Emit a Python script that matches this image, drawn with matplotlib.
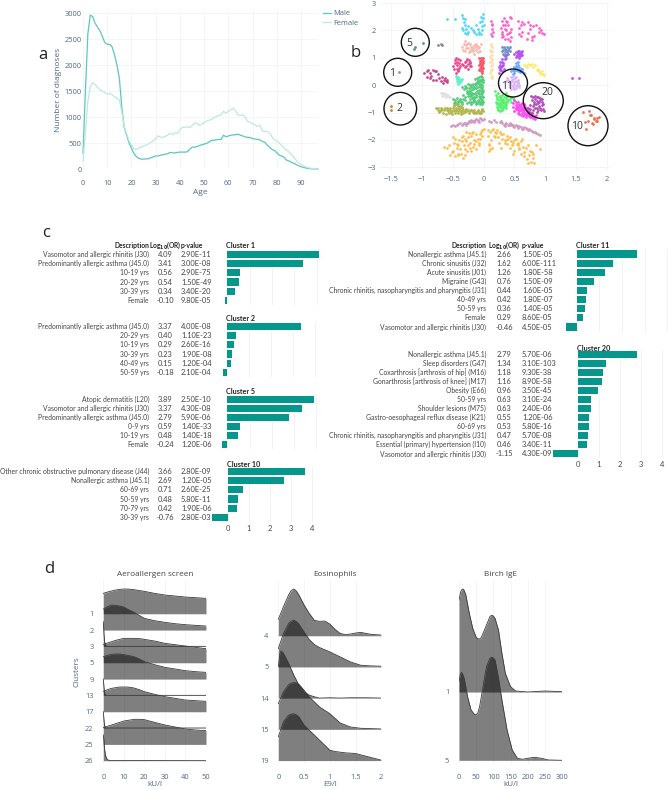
import numpy as np
import matplotlib
matplotlib.use("Agg")
import matplotlib.pyplot as plt
from matplotlib.patches import Ellipse

plt.rcParams['font.family'] = ['Open Sans', 'DejaVu Sans']

W, H = 668, 789
TICK = '#506784'
TITLE = '#444444'
GRID = '#f3f4f6'
TEAL = '#06978c'
TABLE_FONT = ['Lato', 'DejaVu Sans']

# panel a
age = list(range(0, 98))
male = [300,1500,2600,2960,2930,2800,2730,2660,2550,2430,2400,2395,2350,2200,2000,1750,1200,800,650,500,
        400,300,240,205,190,190,195,195,215,235,250,250,265,275,285,295,320,310,310,320,325,325,325,330,375,
        420,420,430,450,465,480,490,520,550,555,560,570,570,650,620,635,650,655,660,670,650,635,615,610,605,
        585,575,570,560,530,515,460,420,375,360,310,265,250,225,170,155,130,110,85,60,45,30,20,10,5,2,1,0]
female = [150,700,1300,1580,1660,1620,1570,1520,1500,1470,1440,1450,1430,1390,1360,1330,1100,820,680,540,
          460,390,375,400,420,440,460,480,510,540,580,640,610,610,630,650,690,660,700,680,750,800,805,810,795,
          830,880,880,840,860,890,920,940,950,980,1010,1030,1040,1110,1070,1110,1140,1170,1120,1040,1035,1040,990,910,900,
          870,850,820,840,730,725,720,690,620,560,540,500,450,400,365,330,280,230,170,120,90,60,40,25,15,10,8,5]
a_xticks = [0,10,20,30,40,50,60,70,80,90]
a_yticks = [0,500,1000,1500,2000,2500,3000]

# panel b, one pair of lists per cluster
cyan_x = [-.6,-.47,-.36,-.34,-.32,-.3,-.28,-.33,-.31,-.27,-.25,-.2,-.17,-.15,-.12,-.1,-.08,-.05,-.03,-.01,.0,-.02,-.06,-.04,-.01,-.08,-.03,-.3,-.26,-.35,-.13]
cyan_y = [2.4,2.4,2.55,2.45,2.3,2.2,2.05,2.0,1.9,1.85,2.15,2.1,2.0,1.95,2.2,2.05,1.85,2.5,2.35,2.6,2.2,2.0,2.3,1.85,2.45,1.95,2.15,2.4,1.95,2.1,1.85]
pink_x = [.12,.14,.13,.15,.12,.14,.13,.3,.28,.3,.33,.35,.37,.32,.42,.4,.44,.38,.45,.42,.3,.36,.41,.45,.34,.55,.58,.6,.62,.65,.58,.6,.72,.75,.78,.8,.85,.9,.95,.98,.72,.78,.82,.9,.93,.75,.7,.63,.31,.34,.38,.43,.29,.4]
pink_y = [2.35,2.2,2.05,1.95,1.85,1.8,2.25,2.35,2.1,1.95,2.45,2.2,2.0,1.8,2.5,2.2,2.05,1.85,1.75,1.6,1.75,2.35,1.9,2.45,1.7,2.35,2.1,2.2,1.95,2.25,1.85,1.8,2.3,2.05,1.75,2.15,2.2,1.95,1.9,1.85,1.9,1.65,1.8,2.1,2.0,2.2,1.7,2.3,2.2,2.05,2.3,1.95,1.85,1.7]
salmon_x = [-.35,-.32,-.3,-.28,-.25,-.22,-.2,-.17,-.15,-.12,-.1,-.07,-.05,-.33,-.29,-.26,-.23,-.19,-.16,-.13,-.09,-.06,-.3,-.24,-.14,-.21,-.18,-.11,-.27]
salmon_y = [1.4,1.5,1.6,1.45,1.35,1.5,1.3,1.25,1.45,1.3,1.2,1.4,1.5,1.3,1.35,1.55,1.25,1.4,1.15,1.5,1.35,1.25,1.25,1.2,1.4,1.38,1.32,1.42,1.5]
cream_x = [.12,.13,.11,.12,.14,.12,.13,.11,.14,.12,.13,.12,.11,.13,.12,.13,.12,.13,.11,.12,.13,.12]
cream_y = [1.5,1.4,1.3,1.2,1.1,1.0,.9,.85,.8,.7,.6,.5,.45,.35,.3,.25,1.45,1.25,1.05,.95,.75,.55]
steel_x = [.3,.32,.34,.36,.38,.41,.43,.31,.33,.37,.39,.42,.35,.36,.3,.33,.4,.34,.38]
steel_y = [1.4,1.3,1.2,1.3,1.2,1.35,1.4,1.15,1.4,1.1,1.3,1.25,1.05,1.0,1.25,1.1,1.15,1.33,1.38]
violet_x = [.52,.55,.58,.6,.63,.54,.57,.6,.62,.55,.58,.5,.36,.35,.3,.27,.26,.25,.28,.31,.33,.27,.3,.25,.29,.56,.59,.53,.61,.29,.32,.26,1.43,1.55]
violet_y = [1.2,1.25,1.25,1.2,1.25,1.1,1.15,1.1,1.1,1.05,1.0,1.15,1.1,.95,.85,.85,.75,.65,.65,.75,.6,.55,.5,.45,.95,1.18,1.07,1.03,1.17,.7,.8,.58,.27,.27]
blue_x = [.45,.48,.5,.52,.55,.58,.6,.62,.65,.5,.53,.56,.6,.52,.55,.47,.63,.54,.57,.51,.49,.59]
blue_y = [.5,.55,.65,.8,.85,.65,.55,.5,.45,.45,.55,.75,.6,.7,.5,.42,.58,.62,.55,.6,.5,.48]
yellow_x = [.65,.68,.72,.76,.8,.84,.88,.9,.93,.95,.98,.7,.78,.87,.91,.96]
yellow_y = [.75,.7,.78,.72,.65,.72,.6,.5,.42,.5,.38,.65,.78,.55,.45,.42]
lilac_x = [.36,.4,.44,.48,.52,.56,.45,.5,.55,.42,.47,.52,.57,.48,.53,.44,.5,.58,.42,.38,.46,.51,.54,.49,.43,.56,.47,.52]
lilac_y = [.15,.2,.3,.35,.3,.2,.1,.05,.1,-.05,.0,-.1,-.05,.22,.15,-.15,-.15,.0,.08,.25,.18,.25,.02,.1,.02,.08,-.08,-.04]
red_x = [-.07,-.05,-.03,-.01,-.06,-.03,-.01,-.07,-.04,-.02,-.06,-.03,-.01,-.05,-.02,-.04,-.06,-.02,-.05,-.03,-.07,-.01]
red_y = [1.0,1.0,.98,1.0,.88,.85,.88,.75,.72,.75,.62,.6,.62,.5,.45,.93,.8,.67,.68,.52,.55,.8]
rose_x = [-.5,-.47,-.45,-.42,-.4,-.38,-.48,-.44,-.41,-.45,-.42,-.3,-.27,-.24,-.22,-.2,-.28,-.25,-.22,-.3,-.35,-.33,-.43,-.46,-.43,-.4,-.26,-.23,-.28,-.39]
rose_y = [.7,.9,1.0,.95,.8,.7,.6,.6,.55,.45,.5,.85,.95,.9,.8,.7,.7,.6,.85,.65,.78,.72,.75,.82,.85,.62,.78,.7,.88,.9]
dpink_x = [-.97,-.93,-.9,-.87,-.83,-.8,-.77,-.92,-.87,-.82,-.78,-.72,-.68,-.65,-.62,-.6,-.66,-.63,-.7,-.6,-.75,-.85]
dpink_y = [.45,.5,.55,.45,.55,.52,.5,.3,.25,.2,.2,.25,.3,.2,.15,.1,.08,.25,.15,.2,.42,.35]
mint_x = [-.45,-.43,-.41,-.39,-.37,-.44,-.42,-.4,-.38,-.43,-.41,-.36,-.44,-.4,-.42,-.38]
mint_y = [.35,.25,.3,.2,.15,.15,.1,.08,.12,.3,.18,.22,.22,.24,.05,.18]
green_x = [-.02,-.05,-.08,-.11,-.14,-.01,-.04,-.07,-.1,-.13,-.02,-.06,-.09,-.12,-.03,-.07,-.02,-.05,-.01,-.04,-.08,-.02,-.05,-.02,
           -.17,-.2,-.23,-.26,-.29,-.32,-.15,-.18,-.21,-.24,-.27,-.14,-.17,-.2,-.23,-.12,-.16,-.19,-.22,-.1,-.13,-.16,
           -.5,-.47,-.44,-.41,-.38,-.35,-.48,-.45,-.42,-.39,-.36,-.33,-.3,-.27,-.24,-.21,-.18,-.3,-.25,-.2,
           -.03,-.06,-.01,-.04,-.08,-.02,-.05,-.01,-.07,-.03,-.06,-.01,-.04,-.02,-.06,-.09,-.11,-.13,-.15,-.18,-.21,-.24,-.28,-.31,-.35,-.14,-.11,-.09,-.12,-.16,-.19,-.22,-.25,-.15,-.18,-.22,-.27,-.1,-.13,-.08,-.06,-.04,-.34,-.37,-.42,-.46]
green_y = [.3,.32,.28,.25,.22,.18,.15,.12,.1,.08,.0,-.02,-.05,.0,-.15,-.18,-.3,-.32,-.45,-.5,-.4,-.6,-.6,-.7,
           .05,.0,.02,.05,-.1,-.15,-.1,-.15,-.18,-.2,-.22,-.3,-.32,-.35,-.33,-.45,-.48,-.45,-.5,-.55,-.6,-.58,
           -.5,-.55,-.48,-.6,-.52,-.62,-.65,-.7,-.68,-.55,-.7,-.5,-.55,-.65,-.6,-.6,-.62,-.42,-.38,-.68,
           .24,.2,.1,.05,.03,-.08,-.1,-.22,-.28,-.38,-.48,-.62,-.66,-.55,-.68,-.3,-.2,-.12,-.05,-.08,-.08,-.1,-.05,-.02,-.05,.05,.12,.18,-.35,-.42,-.28,-.26,-.3,-.55,-.52,-.4,-.3,-.65,-.68,-.58,-.42,-.22,-.35,-.62,-.58,-.62]
lime_x = [.19,.2,.22,.24,.26,.28,.3,.33,.36,.39,.2,.23,.26,.29,.32,.35,.38,.42,.45,.48,.21,.25,.28,.31,.34,.37,.23,.26,.29,.32,.27,.3,.36,.44,.5,.22,.25,.28,.33,.36,.4,.24,.31,.35,.21,.27,.3,.37]
lime_y = [-.2,-.35,-.5,-.3,-.4,-.5,-.35,-.45,-.5,-.4,-.6,-.65,-.7,-.6,-.55,-.6,-.62,-.5,-.45,-.48,-.8,-.78,-.85,-.8,-.75,-.72,-.9,-.95,-.92,-.85,-.45,-.72,-.3,-.62,-.55,-.42,-.55,-.62,-.65,-.42,-.55,-.88,-.62,-.68,-.7,-.78,-.52,-.82]
lgray_x = [-.7,-.67,-.64,-.61,-.58,-.55,-.68,-.65,-.62,-.59,-.56,-.66,-.63]
lgray_y = [-.3,-.28,-.3,-.33,-.36,-.42,-.38,-.4,-.42,-.4,-.45,-.34,-.36]
olive_x = [-.78,-.75,-.72,-.69,-.66,-.63,-.6,-.57,-.54,-.51,-.48,-.45,-.42,-.39,-.36,-.33,-.3,-.27,-.24,-.21,-.18,-.15,-.12,-.09,-.06,-.03,-.01,
           -.74,-.7,-.65,-.6,-.55,-.5,-.45,-.4,-.35,-.3,-.25,-.2,-.15,-.1,-.05,-.02,-.62,-.52,-.47,-.42,-.37,-.48,-.43,-.38,
           -.71,-.67,-.58,-.53,-.49,-.44,-.41,-.37,-.34,-.31,-.28,-.22,-.17,-.13,-.08,-.04,-.56,-.46,-.4,-.35]
olive_y = [-.85,-.82,-.98,-.85,-1.0,-.85,-.9,-1.0,-.82,-.95,-.78,-.9,-.75,-.95,-.85,-1.0,-.9,-.95,-1.0,-.9,-.98,-.92,-1.02,-.95,-1.0,-.9,-.95,
           -.92,-.9,-.92,-.82,-.92,-.85,-.82,-.88,-.8,-.96,-.9,-.92,-1.0,-.92,-1.02,-.88,-1.05,-1.05,-1.02,-1.0,-1.05,-.72,-.7,-.75,
           -.94,-.86,-.95,-.98,-.9,-.96,-.92,-.97,-.9,-.98,-.88,-.96,-.95,-.97,-1.0,-.95,-.88,-.95,-.83,-.92]
fuchsia_x = [.47,.5,.53,.56,.59,.62,.65,.48,.52,.55,.58,.61,.64,.67,.7,.55,.58,.62,.66,.7,.74,.78,.6,.64,.68,.72,.76,.8,.84,.52,.56,.6,.5,.72,.66,.85,
             .54,.57,.6,.63,.66,.69,.72,.75,.78,.62,.65,.68,.7,.74,.58,.61,.53,.56,.77,.81]
fuchsia_y = [-.65,-.55,-.6,-.7,-.75,-.65,-.72,-.8,-.85,-.9,-.82,-.88,-.85,-.8,-.85,-1.0,-1.05,-1.0,-.98,-1.0,-1.05,-1.0,-1.1,-1.12,-1.15,-1.1,-1.15,-1.2,-1.25,-.72,-.6,-.92,-.95,-.92,-.68,-1.1,
             -.8,-.95,-.78,-.82,-.92,-1.05,-1.02,-.98,-1.12,-.92,-1.05,-1.08,-.94,-1.12,-.72,-.7,-.88,-.78,-1.18,-1.12]
plum_x = [.77,.8,.83,.86,.89,.92,.95,.78,.82,.86,.9,.94,.97,.75,.8,.85,.9,.95,.72,.76,.8,.84,.88,.93,.98,.74,.78,.86,.84,.88,.92,.82,.87,.91,.96]
plum_y = [-.4,-.42,-.38,-.42,-.45,-.48,-.5,-.55,-.6,-.58,-.62,-.6,-.68,-.72,-.78,-.7,-.78,-.72,-.85,-.88,-.9,-.85,-.92,-.9,-.95,-.98,-1.0,-.98,-.5,-.66,-.54,-.68,-.84,-.84,-.86]
mauve_x = [-.53,-.5,-.46,-.42,-.38,-.34,-.3,-.27,-.24,-.21,-.18,-.15,-.12,-.09,-.06,-.03,.0,.08,.12,.16,.2,.26,.3,.33,.37,.41,.45,.48,.52,.56,.6,.64,.68,.72,.76,.8,.85,.92,-.44,-.28,-.16,-.07,.34,.42,.5,.62,
           -.36,-.32,-.25,-.2,-.14,-.1,-.04,.28,.35,.39,.44,.47,.54,.58,.66,.7,.74,.78,.83,.88]
mauve_y = [-1.5,-1.47,-1.48,-1.42,-1.4,-1.42,-1.37,-1.38,-1.32,-1.35,-1.3,-1.32,-1.24,-1.28,-1.2,-1.27,-1.24,-1.3,-1.34,-1.28,-1.36,-1.36,-1.4,-1.45,-1.38,-1.44,-1.42,-1.5,-1.46,-1.55,-1.52,-1.6,-1.58,-1.65,-1.65,-1.7,-1.75,-1.82,-1.46,-1.44,-1.36,-1.33,-1.5,-1.38,-1.53,-1.6,
           -1.44,-1.39,-1.38,-1.29,-1.26,-1.3,-1.22,-1.32,-1.42,-1.46,-1.46,-1.44,-1.5,-1.5,-1.54,-1.62,-1.62,-1.66,-1.72,-1.78]
orange_x = [-.65,-.6,-.56,-.52,-.5,-.47,-.44,-.4,-.36,-.32,-.28,-.24,-.2,-.16,-.12,-.08,-.04,.0,-.55,-.48,-.42,-.38,-.33,-.27,-.22,-.17,-.12,-.06,-.02,-.5,-.44,-.37,-.3,-.25,-.2,-.13,-.08,-.03,-.34,-.28,-.18,-.42,-.3,
            .07,.1,.13,.16,.2,.24,.28,.32,.36,.4,.44,.48,.52,.56,.6,.64,.68,.72,.76,.8,.85,.92,.12,.09,.08,.18,.28,.34,.42,.5,.55,.6,.66,.7,.74,.77,.8,.82,.65,.72,.78,.25,.38,.47,.58,.1,.14,
            -.46,-.41,-.35,-.31,-.26,-.23,-.19,-.15,-.1,-.06,.15,.19,.22,.26,.3,.35,.38,.43,.46,.5,.54,.58,.62,.07,.08]
orange_y = [-2.25,-2.3,-2.2,-2.45,-1.9,-2.6,-2.3,-2.0,-1.9,-2.2,-2.05,-1.75,-1.85,-2.0,-1.8,-2.1,-1.7,-1.6,-2.55,-2.1,-2.5,-2.35,-2.65,-2.4,-2.1,-2.25,-2.35,-1.95,-1.65,-2.4,-2.15,-2.5,-2.55,-2.2,-2.4,-2.05,-2.2,-1.85,-1.85,-1.7,-1.7,-2.55,-2.35,
            -1.65,-1.7,-1.65,-1.85,-1.75,-1.9,-1.8,-1.8,-2.0,-1.95,-2.05,-2.1,-1.95,-2.1,-2.05,-2.25,-2.3,-2.2,-2.4,-2.5,-2.2,-2.35,-2.0,-2.2,-2.4,-1.7,-2.3,-2.0,-2.3,-2.4,-2.2,-2.5,-2.45,-2.7,-2.55,-2.8,-2.65,-2.85,-2.6,-2.85,-2.45,-2.1,-2.15,-2.5,-2.35,-2.35,-2.3,
            -1.95,-2.2,-2.05,-1.95,-1.9,-2.3,-1.75,-2.15,-1.95,-1.8,-1.6,-1.9,-1.65,-1.7,-1.95,-2.1,-1.85,-1.9,-2.2,-2.0,-2.15,-2.3,-1.95,-1.85,-2.15]
brick_x = [1.61,1.72,1.75,1.79,1.87,1.82,1.7,1.76,1.85,1.78,1.67,1.8,1.64,1.73,1.84]
brick_y = [-.97,-.95,-1.1,-1.2,-1.15,-1.3,-1.32,-1.4,-1.3,-1.42,-1.62,-1.25,-1.35,-1.08,-1.2]
five_x = [-1.12,-1.14,-.99]
five_y = [1.4,1.33,1.55]
one_x = [-1.38]
one_y = [.48]
two_x = [-1.5,-1.5]
two_y = [-.75,-.9]
stray_x = [-.75,-.7,-.68]
stray_y = [1.48,1.5,1.45]
b_xticks = [-1.5,-1,-.5,0,.5,1,1.5,2]
b_xlabels = ['\u22121.5','\u22121','\u22120.5','0','0.5','1','1.5','2']
b_yticks = [-3,-2,-1,0,1,2,3]

# panel c
c1_names = ['Vasomotor and allergic rhinitis (J30)','Predominantly allergic asthma (J45.0)','10-19 yrs','20-29 yrs','30-39 yrs','Female']
c1_or = [4.09,3.41,0.56,0.54,0.34,-0.10]
c1_p = ['2.90E-11','3.00E-08','2.90E-75','1.50E-49','3.40E-20','9.80E-05']
c2_names = ['Predominantly allergic asthma (J45.0)','20-29 yrs','10-19 yrs','30-39 yrs','40-49 yrs','50-59 yrs']
c2_or = [3.37,0.40,0.29,0.23,0.15,-0.18]
c2_p = ['4.00E-08','1.10E-23','2.60E-16','1.90E-08','1.20E-04','2.10E-04']
c5_names = ['Atopic dermatitis (L20)','Vasomotor and allergic rhinitis (J30)','Predominantly allergic asthma (J45.0)','0-9 yrs','10-19 yrs','Female']
c5_or = [3.89,3.37,2.79,0.59,0.48,-0.24]
c5_p = ['2.50E-10','4.30E-08','5.90E-06','1.40E-33','1.40E-18','1.20E-06']
c10_names = ['Other chronic obstructive pulmonary disease (J44)','Nonallergic asthma (J45.1)','60-69 yrs','50-59 yrs','70-79 yrs','30-39 yrs']
c10_or = [3.66,2.69,0.71,0.48,0.42,-0.76]
c10_p = ['2.80E-09','1.20E-05','2.60E-25','5.80E-11','1.90E-06','2.80E-03']
c11_names = ['Nonallergic asthma (J45.1)','Chronic sinusitis (J32)','Acute sinusitis (J01)','Migraine (G43)','Chronic rhinitis, nasopharyngitis and pharyngitis (J31)','40-49 yrs','50-59 yrs','Female','Vasomotor and allergic rhinitis (J30)']
c11_or = [2.66,1.62,1.26,0.76,0.44,0.42,0.36,0.29,-0.46]
c11_p = ['1.50E-05','6.00E-111','1.80E-58','1.50E-09','1.60E-05','1.80E-07','1.40E-05','8.60E-05','4.50E-05']
c20_names = ['Nonallergic asthma (J45.1)','Sleep disorders (G47)','Coxarthrosis [arthrosis of hip] (M16)','Gonarthrosis [arthrosis of knee] (M17)','Obesity (E66)','50-59 yrs','Shoulder lesions (M75)','Gastro-oesophageal reflux disease (K21)','60-69 yrs','Chronic rhinitis, nasopharyngitis and pharyngitis (J31)','Essential (primary) hypertension (I10)','Vasomotor and allergic rhinitis (J30)']
c20_or = [2.79,1.34,1.18,1.16,0.96,0.63,0.63,0.55,0.53,0.47,0.46,-1.15]
c20_p = ['5.70E-06','3.10E-103','9.30E-38','8.90E-58','3.50E-45','3.10E-24','2.40E-06','1.20E-06','5.80E-16','5.70E-08','3.40E-11','4.30E-09']

# panel d, heights of each ridge above its baseline
aero_rows = ['1','2','3','5','9','13','17','22','25','26']
aero_x = [0,2,4,6,8,10,12,15,18,20,25,30,35,40,45,50]
aero_1 = [61,65,68,71,73,74,74,72,69,67,61,56,53,50,48,46]
aero_2 = [63,70,75,74,72,69,62,53,42,35,28,23,19,16,14,12]
aero_5 = [55,59,63,67,70,73,73,73,72,70,65,58,54,50,46,42]
aero_9 = [67,71,74,75,75,73,71,67,59,52,43,35,30,25,22,20]
aero_17 = [61,66,70,72,74,74,74,71,65,60,52,45,40,35,33,31]
aero_25 = [50,54,58,62,66,70,72,75,75,74,66,58,52,46,43,41]
spike_x = [0,.3,.6,1,1.5,2,3,50]
aero_3 = [74,40,15,5,1,0,0,0]
aero_13 = [49,25,8,2,0,0,0,0]
aero_22 = [49,25,8,2,0,0,0,0]
aero_26 = [77,60,35,18,8,3,.5,0]

eos_rows = ['4','5','14','15','19']
eos_x4 = [0,.1,.2,.25,.3,.35,.4,.5,.6,.7,.8,.9,1,1.1,1.2,1.3,1.4,1.5,1.6,1.7,1.8,2]
eos_4 = [49,87,122,135,140,134,122,92,67,46,43,44,35,19,7,3,5,8,10,7,4,2]
eos_x5 = [0,.1,.2,.25,.3,.35,.4,.5,.6,.7,.8,1,1.2,1.4,1.6,1.8,2]
eos_5 = [55,100,130,137,140,136,128,105,82,67,58,45,30,15,5,3,2]
eos_x14 = [0,.03,.05,.08,.1,.2,.3,.4,.5,.6,.7,.8,1,1.2,1.4,1.7,2]
eos_14 = [94,132,141,138,134,104,69,39,19,9,4,0,1,0,1,1,0]
eos_x15 = [0,.1,.2,.25,.3,.35,.4,.5,.6,.7,.8,1,1.2,1.4,1.6,2]
eos_15 = [77,112,134,138,140,139,135,117,97,82,67,47,19,7,3,1]
eos_x19 = [0,.1,.2,.25,.3,.35,.4,.5,.6,.7,.8,1,1.1,1.3,1.5,1.7,2]
eos_19 = [71,116,136,139,140,137,131,106,91,76,61,31,27,23,21,13,1]

birch_rows = ['1','5']
birch_x1 = [0,5,9,12,15,20,30,40,50,55,60,65,70,80,90,94,97,100,105,115,125,135,150,165,200,250,300]
birch_1 = [276,301,308,309,305,291,236,191,164,160,159,164,176,201,226,230,230,228,221,186,116,56,16,3,0,3,1]
birch_x5 = [0,4,7,10,15,25,35,45,50,55,60,70,80,90,94,97,100,105,115,125,140,155,170,185,200,220,240,260,300]
birch_5 = [236,258,264,260,246,191,151,138,136,143,161,221,281,306,309,309,307,301,246,181,91,31,6,3,6,9,6,1,0]

fig = plt.figure(figsize=(W / 100, H / 100), dpi=100)


def make_ax(l, t, r, b):
    return fig.add_axes([l / W, 1 - b / H, (r - l) / W, (b - t) / H])


def plotly_style(ax, size=5.4, xpad=4, ypad=1):
    for s in ax.spines.values():
        s.set_visible(False)
    ax.tick_params(length=0, labelsize=size, labelcolor=TICK)
    ax.tick_params(axis='x', pad=xpad)
    ax.tick_params(axis='y', pad=ypad)
    ax.grid(True, color=GRID, lw=0.6)
    ax.set_axisbelow(True)


# a
ax = make_ax(83, 10, 318, 169)
plotly_style(ax, xpad=8)
ax.plot(age, male, color='#5cc6c0', lw=0.9, clip_on=False, label='Male')
ax.plot(age, female, color='#bde9df', lw=0.9, clip_on=False, label='Female')
ax.set_xlim(0, 97)
ax.set_ylim(0, 3058)
ax.set_xticks(a_xticks)
ax.set_yticks(a_yticks)
ax.set_xlabel('Age', fontsize=6, color=TICK, labelpad=1)
ax.set_ylabel('Number of diagnoses', fontsize=6, color=TICK, labelpad=2)
ax.legend(loc='upper left', bbox_to_anchor=(1.015, 1.01), frameon=False, fontsize=5.4, labelcolor=TICK,
          handlelength=1.0, handletextpad=0.4, labelspacing=0.3, borderpad=0, borderaxespad=0.2)

# b
ax = make_ax(380, 3, 610, 170)
plotly_style(ax, xpad=4, ypad=3)
clusters = [(cyan_x, cyan_y, '#52d8f7'), (pink_x, pink_y, '#ff62cf'), (salmon_x, salmon_y, '#f8b9b0'),
            (cream_x, cream_y, '#f6e2ae'), (steel_x, steel_y, '#7391c4'), (violet_x, violet_y, '#b653ef'),
            (blue_x, blue_y, '#6ea9fb'), (yellow_x, yellow_y, '#fde96a'), (lilac_x, lilac_y, '#ddb4f6'),
            (red_x, red_y, '#f65a68'), (rose_x, rose_y, '#f0488f'), (dpink_x, dpink_y, '#c84a8e'),
            (mint_x, mint_y, '#5ff2cd'), (green_x, green_y, '#55cb7c'), (lime_x, lime_y, '#56f06d'),
            (lgray_x, lgray_y, '#e2e2e2'), (olive_x, olive_y, '#b2b84e'), (fuchsia_x, fuchsia_y, '#fb4cf0'),
            (plum_x, plum_y, '#b04fb8'), (mauve_x, mauve_y, '#d19ac2'), (orange_x, orange_y, '#ffbf52'),
            (brick_x, brick_y, '#e8734f'), (five_x, five_y, '#4f9f78'), (one_x, one_y, '#5f9ff0'),
            (two_x, two_y, '#b78a3a'), (stray_x, stray_y, '#888888')]
for cx, cy, col in clusters:
    ax.scatter(cx, cy, s=4, color=col, linewidths=0)
ax.set_xlim((380 - 483.7) / 61.5, (610 - 483.7) / 61.5)
ax.set_ylim(-3.10, 3.0)
ax.set_xticks(b_xticks)
ax.set_xticklabels(b_xlabels)
ax.set_yticks(b_yticks)


def bar_panel(names, values, pvals, title, zero, unit, first, step, title_y, xname, xor, xp, tick_pad=None):
    n = len(values)
    t = first - step / 2
    b = first + step * (n - 0.5)
    ax = make_ax(zero - 30, t, zero + 4.25 * unit, b)
    for s in ax.spines.values():
        s.set_visible(False)
    ax.barh(range(n), values, height=0.78, color=TEAL, zorder=3)
    ax.set_xlim(-30 / unit, 4.25)
    ax.set_ylim(n - 0.5, -0.5)
    ax.set_yticks([])
    ax.set_xticks([0, 1, 2, 3, 4])
    ax.grid(True, axis='x', color='#f0f0f0', lw=0.6, zorder=0)
    ax.tick_params(length=0, labelsize=5.4, labelcolor='#444444', labelbottom=tick_pad is not None,
                   labelfontfamily='Lato', pad=tick_pad or 0)
    ov.text(zero - 1, title_y, title, fontsize=5.2, fontweight='bold', color='#222222', ha='left', va='center', family=TABLE_FONT)
    for i in range(n):
        y = first + step * i
        ov.text(xname, y, names[i], fontsize=4.9, color='#444444', ha='right', va='center', family=TABLE_FONT)
        ov.text(xor, y, '%.2f' % values[i], fontsize=5.4, color='#444444', ha='center', va='center', family=TABLE_FONT)
        ov.text(xp, y, pvals[i], fontsize=5.4, color='#444444', ha='left', va='center', family=TABLE_FONT)


# overlay in pixel units for the annotations and pasted-in table text
ov = fig.add_axes([0, 0, 1, 1], zorder=10)
ov.set_xlim(0, W)
ov.set_ylim(H, 0)
ov.axis('off')
ov.patch.set_alpha(0)

for cx, cy, rx, ry, lab, lx, ly in [(415.3, 42.3, 14, 14, '5', 409, 43), (397.7, 72.3, 14, 14, '1', 392, 73),
                                    (400.3, 108.7, 16.3, 16.3, '2', 399, 108), (513, 83, 14.5, 14, '11', 507, 86),
                                    (543.3, 100.7, 20, 18, '20', 547, 92), (588, 125.7, 20, 20, '10', 576.5, 126)]:
    ov.add_patch(Ellipse((cx, cy), 2 * rx, 2 * ry, fill=False, ec='#111111', lw=1.0))
    ov.text(lx, ly, lab, fontsize=7.5, color='#333333', ha='center', va='center')

for letter, lx, ly in [('a', 43, 55), ('b', 356, 53), ('c', 46, 233), ('d', 49, 569)]:
    ov.text(lx, ly, letter, fontsize=12, color='#222222', ha='center', va='center')

# c, every cluster was pasted at a slightly different scale
bar_panel(c1_names, c1_or, c1_p, 'Cluster 1', 227.3, 22.3, 254.7, 9.1, 245.7, 149, 165, 181)
bar_panel(c2_names, c2_or, c2_p, 'Cluster 2', 227.3, 21.9, 326.7, 9.1, 318.5, 149, 165, 181)
bar_panel(c5_names, c5_or, c5_p, 'Cluster 5', 227.3, 22.2, 399.3, 9.1, 391.5, 149, 165, 181)
bar_panel(c10_names, c10_or, c10_p, 'Cluster 10', 228, 21, 471.7, 9.1, 464.5, 149, 165, 181, tick_pad=2)
bar_panel(c11_names, c11_or, c11_p, 'Cluster 11', 576.7, 22.6, 254, 9.13, 245.7, 486, 504, 522)
bar_panel(c20_names, c20_or, c20_p, 'Cluster 20', 577.7, 21.1, 354.3, 9.06, 348.5, 486, 504, 522, tick_pad=2)

for xname, xor, xp in [(149, 165.5, 181), (486, 504, 522)]:
    ov.text(xname, 245, 'Description', fontsize=4.9, fontweight='bold', color='#222222', ha='right', va='center', family=TABLE_FONT)
    ov.text(xor, 245, r'Log$_{\mathbf{10}}$(OR)', fontsize=4.8, fontweight='bold', color='#222222', ha='center', va='center', family=TABLE_FONT)
    ov.text(xp, 245, 'p-value', fontsize=4.9, fontweight='bold', color='#222222', ha='left', va='center', family=TABLE_FONT)


def ridge_panel(l, r, x0, x1, first, step, rows, title, title_x, xlabel, xticks, xticklabels, scale):
    t, b = 580, 764
    ax = make_ax(l, t, r, b)
    plotly_style(ax, xpad=7, ypad=7)
    ax.set_xlim(x0, x1)
    ax.set_ylim(-(b - first) / step, (first - t) / step)
    ax.set_yticks([-i for i in range(len(rows))])
    ax.set_yticklabels(rows)
    ax.set_xticks(xticks)
    ax.set_xticklabels(xticklabels)
    ov.text(title_x, 575, title, fontsize=5.9, color=TITLE, ha='center', va='center')
    ax.set_xlabel(xlabel, fontsize=5.8, color=TICK, labelpad=0)

    def ridge(row, x, h):
        top = -row + np.array(h) / scale
        ax.fill_between(x, -row, top, color='black', alpha=0.5, lw=0)
        ax.plot(x, top, color='#3a3a3a', lw=0.6)
    return ax, ridge


# d
ax1, ridge = ridge_panel(103.3, 206, 0, 50, 613.7, 16.33, aero_rows, 'Aeroallergen screen', 155, 'kU/l',
                         [0, 10, 20, 30, 40, 50], ['0', '10', '20', '30', '40', '50'], 49)
ax1.set_ylabel('Clusters', fontsize=5.9, color=TICK, labelpad=3)
ridge(0, aero_x, aero_1)
ridge(1, aero_x, aero_2)
ridge(2, spike_x, aero_3)
ridge(3, aero_x, aero_5)
ridge(4, aero_x, aero_9)
ridge(5, spike_x, aero_13)
ridge(6, aero_x, aero_17)
ridge(7, spike_x, aero_22)
ridge(8, aero_x, aero_25)
ridge(9, spike_x, aero_26)

ax2, ridge = ridge_panel(278.3, 381.3, 0, 2, 635.7, 31.2, eos_rows, 'Eosinophils', 335, 'E9/l',
                         [0, .5, 1, 1.5, 2], ['0', '0.5', '1', '1.5', '2'], 93.5)
ridge(0, eos_x4, eos_4)
ridge(1, eos_x5, eos_5)
ridge(2, eos_x14, eos_14)
ridge(3, eos_x15, eos_15)
ridge(4, eos_x19, eos_19)

ax3, ridge = ridge_panel(459, 562, 0, 300, 692, 68.3, birch_rows, 'Birch IgE', 500.7, 'kU/l',
                         [0, 50, 100, 150, 200, 250, 300], ['0', '50', '100', '150', '200', '250', '300'], 205)
ridge(0, birch_x1, birch_1)
ridge(1, birch_x5, birch_5)

fig.savefig('out.png', dpi=100)
